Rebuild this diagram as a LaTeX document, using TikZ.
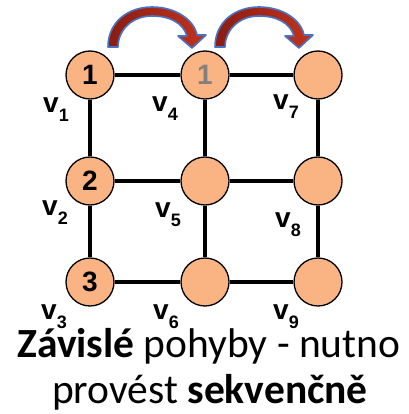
\documentclass[tikz,border=0pt]{standalone}
\usepackage{fontspec}
\setmainfont{Carlito}
\newfontfamily\arialfont{Liberation Sans}
\definecolor{nodefill}{HTML}{FAB382}
\definecolor{arrowdark}{HTML}{8A1C12}
\definecolor{arrowred}{HTML}{C2331C}
\definecolor{arrowblue}{HTML}{4A72C4}
\definecolor{numgray}{HTML}{808080}
\newcommand\vsub[1]{v\raisebox{-9pt}{\fontsize{18}{18}\selectfont #1}}
\tikzset{
  vert/.style={circle, draw=black, line width=1.3pt, fill=nodefill, minimum size=48pt, inner sep=0pt,
    font=\arialfont\bfseries\fontsize{28}{28}\selectfont},
  gridedge/.style={line width=4pt, black},
  vlab/.style={anchor=base west, inner sep=0pt, font=\arialfont\bfseries\fontsize{28}{28}\selectfont},
  caption/.style={anchor=base, inner sep=0pt, font=\fontsize{41.5}{41.5}\selectfont},
  curvearrow/.pic={
    \path[draw=arrowblue, line width=1.6pt, left color=arrowdark, right color=arrowred, line join=round]
      (108,47) .. controls (108,22) and (128,7) .. (152,7)
      .. controls (176,7) and (194,20) .. (197,35)
      -- (206,35) -- (192,48) -- (178,36) -- (187,36)
      .. controls (183,23) and (170,16) .. (152,16)
      .. controls (132,16) and (118,30) .. (118,47) -- cycle;
  }
}
\begin{document}
\begin{tikzpicture}[x=1pt,y=-1pt]
\useasboundingbox (0,0) rectangle (408,414);
% vertices
\node[vert] (n1) at (90,75) {1};
\node[vert] (n2) at (90,181) {2};
\node[vert] (n3) at (90,282) {3};
\node[vert] (n4) at (205,75) {\textcolor{numgray}{1}};
\node[vert] (n5) at (205,181) {};
\node[vert] (n6) at (205,282) {};
\node[vert] (n7) at (318,75) {};
\node[vert] (n8) at (318,181) {};
\node[vert] (n9) at (318,282) {};
% edges
\draw[gridedge] (n1) -- (n4); \draw[gridedge] (n4) -- (n7);
\draw[gridedge] (n2) -- (n5); \draw[gridedge] (n5) -- (n8);
\draw[gridedge] (n3) -- (n6); \draw[gridedge] (n6) -- (n9);
\draw[gridedge] (n1) -- (n2); \draw[gridedge] (n2) -- (n3);
\draw[gridedge] (n4) -- (n5); \draw[gridedge] (n5) -- (n6);
\draw[gridedge] (n7) -- (n8); \draw[gridedge] (n8) -- (n9);
% labels
\node[vlab] (l1) at (43,113) {\vsub{1}};
\node[vlab] (l2) at (42,215) {\vsub{2}};
\node[vlab] (l3) at (41,319) {\vsub{3}};
\node[vlab] (l4) at (152,112) {\vsub{4}};
\node[vlab] (l5) at (155,217) {\vsub{5}};
\node[vlab] (l6) at (153,319) {\vsub{6}};
\node[vlab] (l7) at (273,110) {\vsub{7}};
\node[vlab] (l8) at (275,227) {\vsub{8}};
\node[vlab] (l9) at (273,319) {\vsub{9}};
% arrows
\pic at (0,0) {curvearrow};
\pic at (107,0) {curvearrow};
% caption
\node[caption] (t1) at (209,357) {\textbf{Závislé} pohyby - nutno};
\node[caption] (t2) at (210,403) {provést \textbf{sekvenčně}};
\end{tikzpicture}
\end{document}
